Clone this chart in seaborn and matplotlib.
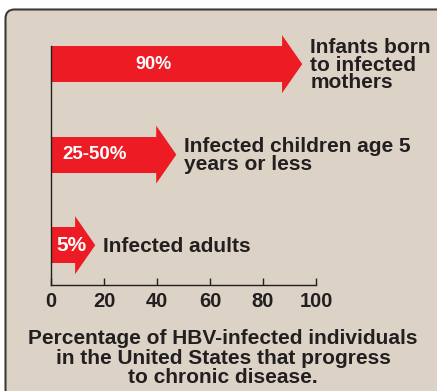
import matplotlib.pyplot as plt
import matplotlib.patches as mpatches
import matplotlib.transforms as mtransforms
import pandas as pd
import seaborn as sns

# values
groups = ['Infants born\nto infected\nmothers',
          'Infected children age 5\nyears or less',
          'Infected adults']
pct_labels = ['90%', '25-50%', '5%']
body_end = [87.5, 40, 9.4]      # where the straight part of each arrow stops
xticks = [0, 20, 40, 60, 80, 100]
caption = ('Percentage of HBV-infected individuals\n'
           'in the United States that progress\n'
           'to chronic disease.')

# layout
pct_x = [38.5, 16.6, 7.9]
pct_size = [13, 13.5, 15]
head_len = 7.3
head_w = 0.64

red = '#ed1c24'
dark = '#231f20'
beige = '#dcd3c6'

sns.set_style('ticks')
plt.rcParams['font.family'] = ['Liberation Sans', 'DejaVu Sans']
plt.rcParams['font.weight'] = 'bold'

W, H = 437, 391
fig = plt.figure(figsize=(W / 100, H / 100), dpi=100, facecolor='white')

# rounded beige panel running off the right and bottom edges
frame = mpatches.FancyBboxPatch((5.5, -30), 480, H - 9.5 + 30,
                                boxstyle='round,pad=0,rounding_size=9',
                                transform=mtransforms.IdentityTransform(),
                                facecolor=beige, edgecolor='#3a3a3a',
                                linewidth=1.5, zorder=-10)
fig.add_artist(frame)

ax = fig.add_axes([51 / W, (H - 285) / H, (316 - 51) / W, (285 - 46) / H])
ax.set_facecolor('none')

df = pd.DataFrame({'group': groups, 'value': body_end})
sns.barplot(data=df, x='value', y='group', orient='h', color=red,
            saturation=1, width=0.4, linewidth=0, ax=ax)

for bar in ax.patches[:len(groups)]:
    end = bar.get_x() + bar.get_width()
    yc = bar.get_y() + bar.get_height() / 2
    ax.fill([end - 0.3, end + head_len, end - 0.3],
            [yc - head_w / 2, yc, yc + head_w / 2],
            color=red, linewidth=0, clip_on=False)

for i, (g, p, e) in enumerate(zip(groups, pct_labels, body_end)):
    ax.text(pct_x[i], i, p, color='white', fontsize=pct_size[i],
            ha='center', va='center')
    ax.text(e + head_len + 3, i + 0.01, g, color=dark, fontsize=15,
            ha='left', va='center', linespacing=0.93)

ax.set_xlim(0, 100)
ax.set_ylim(2.44, -0.2)
ax.set_xticks(xticks)
ax.set_yticks([])
ax.set_xlabel('')
ax.set_ylabel('')
ax.tick_params(axis='x', direction='in', length=5, width=1, color=dark,
               pad=5, labelsize=14.5, labelcolor=dark)
for s in ['top', 'right']:
    ax.spines[s].set_visible(False)
for s in ['left', 'bottom']:
    ax.spines[s].set_color(dark)
    ax.spines[s].set_linewidth(1)

fig.text(223 / W, 1 - 358 / H, caption, ha='center', va='center',
         fontsize=15, color=dark, linespacing=1.05)

fig.savefig('out.png', dpi=100)
